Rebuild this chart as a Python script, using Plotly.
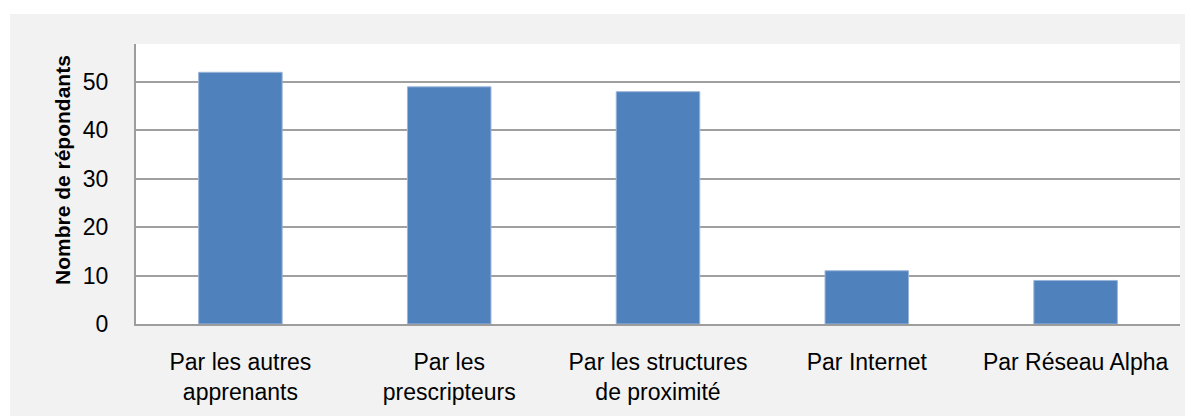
import plotly.graph_objects as go

categories = ["Par les autres<br>apprenants", "Par les<br>prescripteurs", "Par les structures<br>de proximité",
              "Par Internet", "Par Réseau Alpha"]
values = [52, 49, 48, 11, 9]
y_ticks = [0, 10, 20, 30, 40, 50]
y_title = "Nombre de répondants"

# page has an 8px body margin, so figure is sized/offset to compensate
W, H = 1185, 408
L, R, T, B = 128, 13, 36, 92
FONT = "Liberation Sans, Arial, sans-serif"

fig = go.Figure(go.Bar(
    x=categories, y=values,
    marker=dict(color="#4f81bd", line=dict(color="#9bb5d8", width=1)),
    width=0.4,
))

pw = W - L - R
ph = H - T - B

fig.update_layout(
    width=W, height=H,
    margin=dict(l=L, r=R, t=T, b=B, pad=0),
    paper_bgcolor="#f2f2f2",
    plot_bgcolor="white",
    showlegend=False,
    font=dict(family=FONT, size=23, color="#000000"),
    xaxis=dict(
        showline=True, linecolor="#9d9d9d", linewidth=2,
        showgrid=False, ticks="outside", ticklen=16, tickcolor="rgba(0,0,0,0)",
        tickfont=dict(size=23, family=FONT, color="#000000"),
        fixedrange=True,
    ),
    yaxis=dict(
        range=[0, 57.85], tickvals=y_ticks,
        showline=True, linecolor="#9d9d9d", linewidth=2,
        showgrid=True, gridcolor="#a0a0a0", gridwidth=2,
        zeroline=False,
        ticks="outside", ticklen=21, tickcolor="rgba(0,0,0,0)",
        tickfont=dict(size=23, family=FONT, color="#000000"),
        fixedrange=True,
    ),
    annotations=[
        dict(text="<b>" + y_title + "</b>", textangle=-90,
             xref="paper", yref="paper",
             x=(54 - L) / pw, y=(H - B - 162) / ph,
             xanchor="center", yanchor="middle", showarrow=False,
             font=dict(size=21, family=FONT, color="#000000")),
    ],
    shapes=[
        # white strip above the gray frame
        dict(type="rect", xref="paper", yref="paper",
             x0=(0 - L - 10) / pw, x1=(W - L + 10) / pw,
             y0=(H - B - 6) / ph, y1=(H - B + 10) / ph,
             fillcolor="white", line=dict(width=0), layer="above"),
        # white strip left of the gray frame
        dict(type="rect", xref="paper", yref="paper",
             x0=(0 - L - 10) / pw, x1=(2 - L) / pw,
             y0=(-B - 10) / ph, y1=(H - B + 10) / ph,
             fillcolor="white", line=dict(width=0), layer="above"),
    ],
)

fig.write_html("out.html")
